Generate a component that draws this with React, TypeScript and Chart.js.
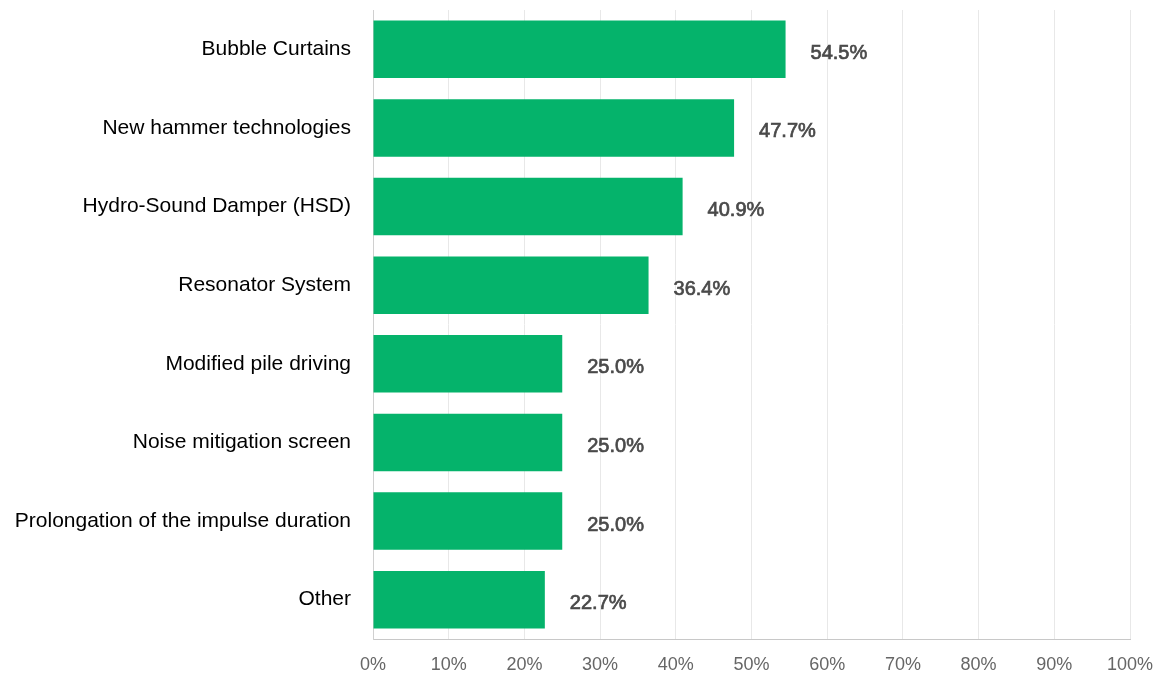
import React, { useEffect, useRef } from "react";
import { Chart, registerables } from "chart.js";

Chart.register(...registerables);

const categories = [
  "Bubble Curtains",
  "New hammer technologies",
  "Hydro-Sound Damper (HSD)",
  "Resonator System",
  "Modified pile driving",
  "Noise mitigation screen",
  "Prolongation of the impulse duration",
  "Other",
];
const values = [54.5, 47.7, 40.9, 36.4, 25.0, 25.0, 25.0, 22.7];
const xTicks = [0, 10, 20, 30, 40, 50, 60, 70, 80, 90, 100];

const FONT = "Arial, 'Liberation Sans', Helvetica, sans-serif";

const valueLabels = {
  id: "valueLabels",
  afterDatasetsDraw(chart: any) {
    const ctx = chart.ctx;
    const meta = chart.getDatasetMeta(0);
    ctx.save();
    ctx.font = "20px " + FONT;
    ctx.fillStyle = "#4a4a4a";
    ctx.strokeStyle = "#4a4a4a";
    ctx.lineWidth = 0.7;
    ctx.textAlign = "left";
    ctx.textBaseline = "middle";
    meta.data.forEach((bar: any, i: number) => {
      const t = values[i].toFixed(1) + "%";
      ctx.fillText(t, bar.x + 25, bar.y + 4);
      ctx.strokeText(t, bar.x + 25, bar.y + 4);
    });
    ctx.restore();
  },
};

export default function App() {
  const ref = useRef<HTMLCanvasElement>(null);
  useEffect(() => {
    if (!ref.current) return;
    const chart = new Chart(ref.current, {
      type: "bar",
      data: {
        labels: categories,
        datasets: [
          {
            data: values,
            backgroundColor: "#05B36B",
            borderWidth: 0,
            categoryPercentage: 1,
            barPercentage: 0.73,
          },
        ],
      },
      options: {
        indexAxis: "y",
        animation: false,
        responsive: true,
        maintainAspectRatio: false,
        layout: { padding: { top: 10, right: 24, left: 0, bottom: 0 } },
        plugins: { legend: { display: false }, tooltip: { enabled: false } },
        scales: {
          x: {
            min: 0,
            max: 100,
            afterBuildTicks: (scale: any) => {
              scale.ticks = xTicks.map((v) => ({ value: v }));
            },
            afterFit: (scale: any) => {
              scale.height = 36;
              scale.paddingLeft = 0;
              scale.paddingRight = 0;
            },
            grid: { color: "#e8e8e8", drawTicks: false, lineWidth: 1 },
            border: { color: "#c8c8c8", width: 1 },
            ticks: {
              padding: 15,
              color: "#666666",
              font: { family: FONT, size: 18 },
              callback: (v: any) => v + "%",
              maxRotation: 0,
              autoSkip: false,
            },
          },
          y: {
            afterFit: (scale: any) => {
              scale.width = 373;
              scale.paddingTop = 0;
              scale.paddingBottom = 0;
            },
            grid: { display: false, drawTicks: false },
            border: { color: "#d0d0d0", width: 1 },
            ticks: {
              padding: 22,
              color: "#000000",
              font: { family: FONT, size: 21 },
              autoSkip: false,
            },
          },
        },
      },
      plugins: [valueLabels],
    });
    return () => chart.destroy();
  }, []);
  return (
    <div style={{ position: "fixed", left: 0, top: 0, width: 1154, height: 675, background: "#fff" }}>
      <canvas ref={ref} />
    </div>
  );
}
